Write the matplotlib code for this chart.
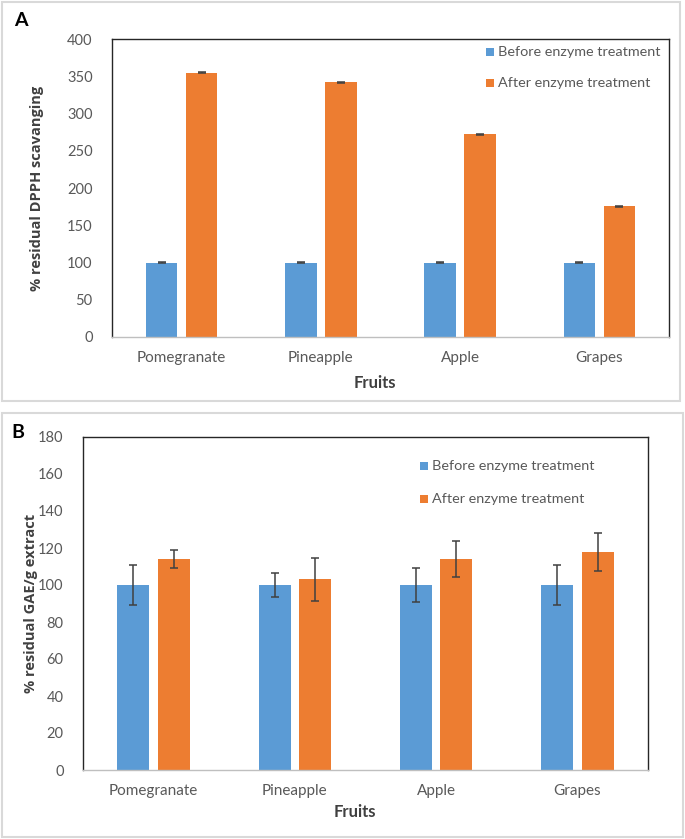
import numpy as np
import matplotlib.pyplot as plt
from matplotlib.patches import Rectangle

plt.rcParams['font.family'] = ['Lato', 'DejaVu Sans']

# data
fruits = ['Pomegranate', 'Pineapple', 'Apple', 'Grapes']
series = ['Before enzyme treatment', 'After enzyme treatment']

dpph_before = [100, 100, 100, 100]
dpph_before_err = [0.6, 0.6, 0.6, 0.6]
dpph_after = [355, 342, 272, 175.5]
dpph_after_err = [0.8, 0.8, 0.8, 0.8]

gae_before = [100, 100, 100, 100]
gae_before_err = [10.8, 6.7, 9.0, 10.6]
gae_after = [114, 103, 114, 118]
gae_after_err = [5.0, 11.5, 9.9, 10.2]

W, H = 685, 839
BLUE = '#5b9bd5'
ORANGE = '#ed7d31'
GRAY = '#595959'

fig = plt.figure(figsize=(W / 100, H / 100), dpi=100)


def fx(px):
    return px / W


def fy(py):
    return 1 - py / H


def panel_box(x0, y0, x1, y1):
    fig.patches.append(Rectangle((fx(x0), fy(y1)), fx(x1 - x0), (y1 - y0) / H,
                                 transform=fig.transFigure, fill=False,
                                 edgecolor='#d9d9d9', linewidth=1.5))


def bar_panel(box, before, before_err, after, after_err, ymax, ystep,
              ylabel, ylabel_x, leg_x, leg_y, fruits_x, fruits_y, cat_y):
    l, t, r, b = box
    ax = fig.add_axes([fx(l), fy(b), fx(r - l), (b - t) / H])
    x = np.arange(len(fruits))
    w = 0.226
    off = 0.143
    ekw = dict(ecolor='#404040', elinewidth=1.1, capsize=3, capthick=1.1)
    ax.bar(x - off, before, w, color=BLUE, yerr=before_err, error_kw=ekw,
           label=series[0])
    ax.bar(x + off, after, w, color=ORANGE, yerr=after_err, error_kw=ekw,
           label=series[1])
    ax.set_xlim(-0.5, len(fruits) - 0.5)
    ax.set_ylim(0, ymax)
    ax.set_yticks(np.arange(0, ymax + 1, ystep))
    ax.set_xticks([])
    ax.tick_params(axis='y', length=0, pad=14, labelsize=10.5, labelcolor=GRAY)
    for s in ['top', 'left', 'right']:
        ax.spines[s].set_color('#262626')
        ax.spines[s].set_linewidth(1.0)
    ax.spines['bottom'].set_color('#bfbfbf')
    ax.spines['bottom'].set_linewidth(1.0)

    # category labels
    for i, name in enumerate(fruits):
        px = l + (r - l) * (i + 0.5) / len(fruits)
        fig.text(fx(px), fy(cat_y), name, ha='center', va='center',
                 fontsize=11, color=GRAY)

    fig.text(fx(fruits_x), fy(fruits_y), 'Fruits', ha='center', va='center',
             fontsize=12, fontweight='bold', color='#404040')
    fig.text(fx(ylabel_x), fy((t + b) / 2), ylabel, rotation=90,
             ha='center', va='center', fontsize=10.5, fontweight='bold',
             color='#404040', family=['Open Sans', 'DejaVu Sans'])

    # legend entries
    for i, (name, col) in enumerate(zip(series, [BLUE, ORANGE])):
        yy = leg_y[i]
        fig.patches.append(Rectangle((fx(leg_x), fy(yy + 4)), fx(8), 8 / H,
                                     transform=fig.transFigure,
                                     facecolor=col, edgecolor='none'))
        fig.text(fx(leg_x + 12), fy(yy), name, ha='left', va='center',
                 fontsize=10.4, color=GRAY)
    return ax


panel_box(2, 2, 680, 401)
panel_box(2, 413, 683, 837)

bar_panel((112, 39, 669, 337), dpph_before, dpph_before_err,
          dpph_after, dpph_after_err, 400, 50,
          '% residual DPPH scavanging', 37, 486, [52, 83], 375, 383, 358)
bar_panel((83, 437, 648, 770), gae_before, gae_before_err,
          gae_after, gae_after_err, 180, 20,
          '% residual GAE/g extract', 31, 420, [466, 499], 355, 812, 791)

fig.text(fx(21), fy(21), 'A', ha='center', va='center', fontsize=14,
         fontweight='bold', color='black')
fig.text(fx(18), fy(432), 'B', ha='center', va='center', fontsize=14,
         fontweight='bold', color='black')

fig.savefig('out.png', dpi=100)
